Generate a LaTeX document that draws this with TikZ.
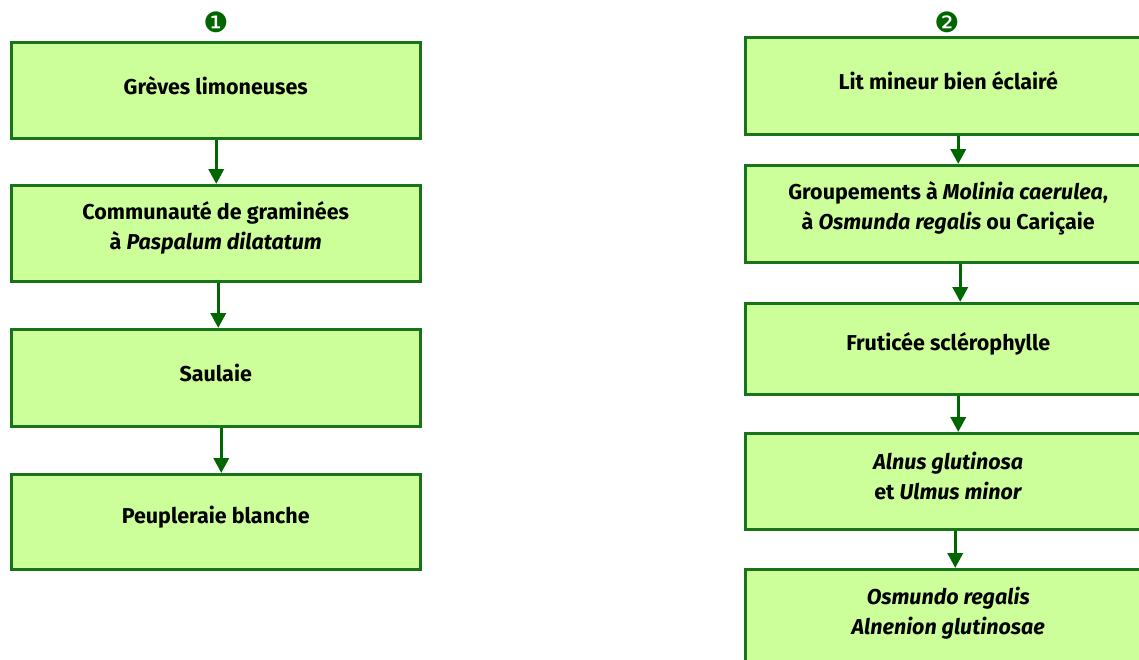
\documentclass[tikz,border=0pt]{standalone}
\usepackage{fontspec}
\setmainfont{Fira Sans}
\newfontfamily\dingfont{DejaVu Sans}
\usetikzlibrary{arrows.meta}
\definecolor{boxfill}{RGB}{204,255,153}
\definecolor{boxline}{RGB}{25,115,25}
\definecolor{arrowgreen}{RGB}{0,102,0}
\begin{document}
\begin{tikzpicture}[x=1pt,y=-1pt,
  stagebox/.style={draw=boxline, line width=2.5pt, fill=boxfill, minimum width=409pt,
    minimum height=96pt, inner sep=0pt, anchor=north west},
  stagetext/.style={align=center, inner sep=0pt, font=\bfseries\fontsize{21.5}{30}\selectfont},
  flow/.style={draw=arrowgreen, line width=3.5pt, -{Triangle[length=15pt,width=15pt]}},
  badge/.style={inner sep=0pt, text=arrowgreen, font=\dingfont\fontsize{28}{28}\selectfont}]
\useasboundingbox (0,0) rectangle (1139,659);
\clip (0,0) rectangle (1139,659);

% left column
\node[badge] (n1) at (216,22) {❶};
\node[stagebox] (l1) at (10,41) {};
\node[stagebox] (l2) at (10,184) {};
\node[stagebox, minimum height=97pt] (l3) at (10,328) {};
\node[stagebox, minimum height=95pt] (l4) at (10,473) {};
\node[stagetext] (t1) at ([yshift=5pt]l1.center) {Grèves limoneuses};
\node[stagetext] (t2) at ([yshift=5pt]l2.center) {Communauté de graminées\\à \textit{Paspalum dilatatum}};
\node[stagetext] (t3) at ([yshift=5pt]l3.center) {Saulaie};
\node[stagetext] (t4) at ([yshift=5pt]l4.center) {Peupleraie blanche};
\draw[flow] ([xshift=0.5pt]l1.south) -- ([xshift=0.5pt]l2.north);
\draw[flow] ([xshift=2.5pt]l2.south) -- ([xshift=2.5pt]l3.north);
\draw[flow] ([xshift=5.5pt]l3.south) -- ([xshift=5.5pt]l4.north);

% right column
\node[badge] (n2) at (947,22) {❷};
\node[stagebox, minimum width=406pt, minimum height=97pt] (r1) at (744,36) {};
\node[stagebox, minimum width=406pt, minimum height=97pt] (r2) at (744,164) {};
\node[stagebox, minimum width=406pt, minimum height=91pt] (r3) at (744,302) {};
\node[stagebox, minimum width=406pt, minimum height=96pt] (r4) at (744,432) {};
\node[stagebox, minimum width=406pt, minimum height=97pt] (r5) at (744,568) {};
\node[stagetext] (s1) at ([yshift=5pt]r1.center) {Lit mineur bien éclairé};
\node[stagetext] (s2) at ([yshift=5pt]r2.center) {Groupements à \textit{Molinia caerulea},\\à \textit{Osmunda regalis} ou Cariçaie};
\node[stagetext] (s3) at ([yshift=5pt]r3.center) {Fruticée sclérophylle};
\node[stagetext] (s4) at ([yshift=5pt]r4.center) {\textit{Alnus glutinosa}\\et \textit{Ulmus minor}};
\node[stagetext] (s5) at ([yshift=5pt]r5.center) {\textit{Osmundo regalis}\\\textit{Alnenion glutinosae}};
\draw[flow] ([xshift=10pt]r1.south) -- ([xshift=10pt]r2.north);
\draw[flow] ([xshift=12pt]r2.south) -- ([xshift=12pt]r3.north);
\draw[flow] ([xshift=10pt]r3.south) -- ([xshift=10pt]r4.north);
\draw[flow] ([xshift=7pt]r4.south) -- ([xshift=7pt]r5.north);
\end{tikzpicture}
\end{document}
